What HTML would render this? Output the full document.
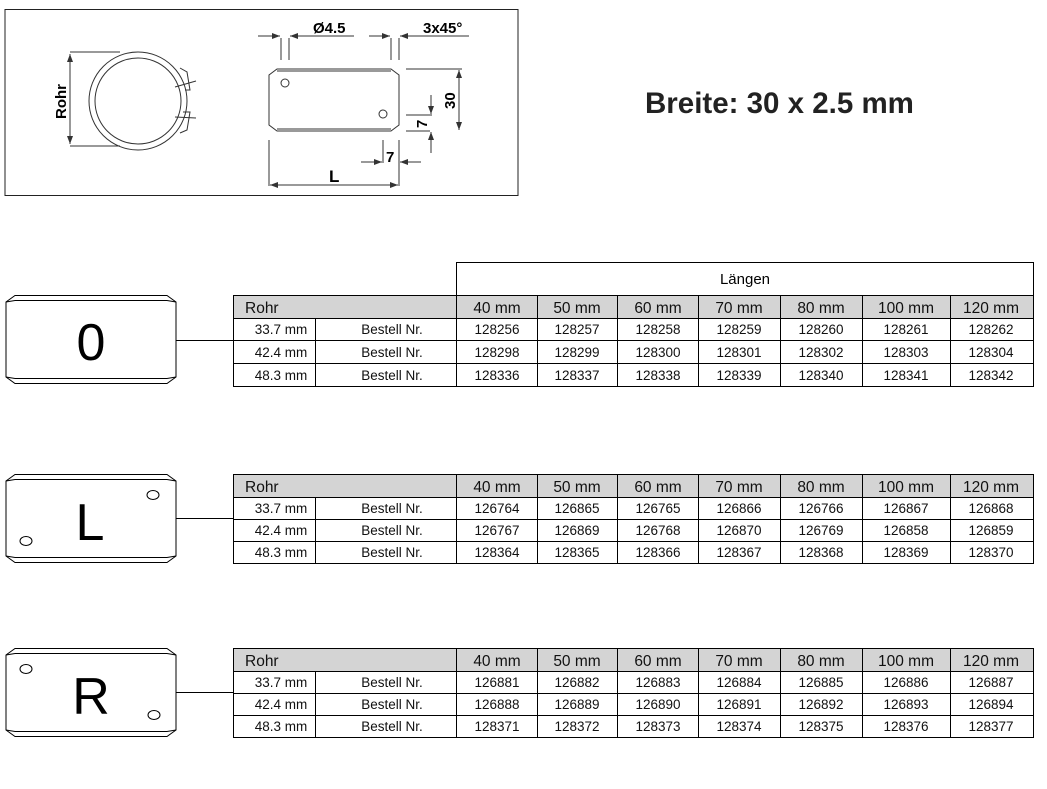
<!DOCTYPE html><html><head><meta charset="utf-8"><style>body{margin:0;background:#fff}svg{display:block}text{font-family:"Liberation Sans",sans-serif}</style></head><body>
<svg width="1047" height="789" viewBox="0 0 1047 789">
<defs><marker id="a" markerWidth="8" markerHeight="6" refX="8" refY="3" orient="auto" markerUnits="userSpaceOnUse"><path d="M0 0 L8 3 L0 6 Z" fill="#333"/></marker></defs>
<rect x="5" y="9.5" width="513" height="186" fill="none" stroke="#222" stroke-width="1"/>
<g fill="none" stroke="#333" stroke-width="1">
<circle cx="138" cy="101" r="49"/><circle cx="138" cy="101" r="43"/>
<path d="M180 68 L187 72 L190 90 L185 90 M183 112 L190 112 L187 130 L180 133"/>
<path d="M175 87 L196 81 M175 117 L196 118"/>
<line x1="70" y1="52" x2="120" y2="52"/><line x1="70" y1="146" x2="120" y2="146"/>
<line x1="70" y1="100" x2="70" y2="54" marker-end="url(#a)"/><line x1="70" y1="100" x2="70" y2="144" marker-end="url(#a)"/>
<path d="M277 69 H391 L399 75 V125 L391 131 H277 L269 125 V75 Z"/>
<path d="M277 71 H391 M277 129 H391"/>
<circle cx="285" cy="83" r="4"/><circle cx="383" cy="114" r="4"/>
<line x1="281" y1="38" x2="281" y2="60"/><line x1="289" y1="38" x2="289" y2="60"/>
<line x1="391" y1="38" x2="391" y2="60"/><line x1="399" y1="38" x2="399" y2="60"/>
<line x1="258" y1="36" x2="280" y2="36" marker-end="url(#a)"/><line x1="354" y1="36" x2="290" y2="36" marker-end="url(#a)"/>
<line x1="369" y1="36" x2="390" y2="36" marker-end="url(#a)"/><line x1="469" y1="36" x2="400" y2="36" marker-end="url(#a)"/>
<line x1="406" y1="69" x2="462" y2="69"/><line x1="406" y1="131" x2="430" y2="131"/>
<line x1="406" y1="115" x2="432" y2="115"/>
<line x1="459" y1="100" x2="459" y2="70" marker-end="url(#a)"/><line x1="459" y1="100" x2="459" y2="130" marker-end="url(#a)"/>
<line x1="431" y1="95" x2="431" y2="114" marker-end="url(#a)"/><line x1="431" y1="153" x2="431" y2="132" marker-end="url(#a)"/>
<line x1="269" y1="140" x2="269" y2="186"/><line x1="399" y1="140" x2="399" y2="186"/>
<line x1="383" y1="140" x2="383" y2="163"/>
<line x1="361" y1="162" x2="382" y2="162" marker-end="url(#a)"/><line x1="421" y1="162" x2="400" y2="162" marker-end="url(#a)"/>
<line x1="334" y1="185" x2="270" y2="185" marker-end="url(#a)"/><line x1="334" y1="185" x2="398" y2="185" marker-end="url(#a)"/>
</g>
<text x="313" y="33" font-size="15" font-weight="bold">Ø4.5</text>
<text x="423" y="33" font-size="15" font-weight="bold">3x45°</text>
<text x="329" y="182" font-size="17" font-weight="bold">L</text>
<text x="386" y="162" font-size="15" font-weight="bold">7</text>
<text transform="translate(455,109) rotate(-90)" font-size="15" font-weight="bold">30</text>
<text transform="translate(427,128) rotate(-90)" font-size="15" font-weight="bold">7</text>
<text transform="translate(66,119) rotate(-90)" font-size="15" font-weight="bold">Rohr</text>
<text x="645" y="113" font-size="29.5" font-weight="bold" fill="#222">Breite: 30 x 2.5 mm</text>

<rect x="456.5" y="262.5" width="577" height="33" fill="none" stroke="#000"/>
<text x="745" y="284" font-size="15" text-anchor="middle">Längen</text>

<g fill="none" stroke="#000" stroke-width="1">
<path d="M15 295.5 H167 L176 302 V377 L167 383.5 H15 L6 377 V302 Z"/><path d="M15 300.5 H167 M15 378.5 H167 M6 302 L15 300.5 M176 302 L167 300.5 M6 377 L15 378.5 M176 377 L167 378.5"/>
<line x1="176" y1="340.5" x2="233" y2="340.5"/>
<path d="M15 474.5 H167 L176 481 V556 L167 562.5 H15 L6 556 V481 Z"/><path d="M15 479.5 H167 M15 557.5 H167 M6 481 L15 479.5 M176 481 L167 479.5 M6 556 L15 557.5 M176 556 L167 557.5"/>
<ellipse cx="153" cy="495" rx="6" ry="4.5"/><ellipse cx="26" cy="541" rx="6" ry="4.5"/>
<line x1="176" y1="518.5" x2="233" y2="518.5"/>
<path d="M15 648.5 H167 L176 655 V730 L167 736.5 H15 L6 730 V655 Z"/><path d="M15 653.5 H167 M15 731.5 H167 M6 655 L15 653.5 M176 655 L167 653.5 M6 730 L15 731.5 M176 730 L167 731.5"/>
<ellipse cx="26" cy="669" rx="6" ry="4.5"/><ellipse cx="154" cy="715" rx="6" ry="4.5"/>
<line x1="176" y1="692.5" x2="233" y2="692.5"/>
</g>
<text x="91" y="360" font-size="52" text-anchor="middle">0</text>
<text x="90" y="540" font-size="52" text-anchor="middle">L</text>
<text x="91" y="714" font-size="52" text-anchor="middle">R</text>

<g stroke="#000" stroke-width="1">
<rect x="233.5" y="295.5" width="800" height="23" fill="#d4d4d4"/>
<rect x="233.5" y="295.5" width="800" height="91" fill="none"/>
<line x1="233" y1="318.5" x2="1034" y2="318.5"/><line x1="233" y1="340.5" x2="1034" y2="340.5"/><line x1="233" y1="363.5" x2="1034" y2="363.5"/>
<line x1="315.5" y1="318" x2="315.5" y2="386"/>
<path d="M456.5 295V386M537.5 295V386M617.5 295V386M698.5 295V386M780.5 295V386M862.5 295V386M950.5 295V386"/>
<rect x="233.5" y="474.5" width="800" height="23" fill="#d4d4d4"/>
<rect x="233.5" y="474.5" width="800" height="89" fill="none"/>
<line x1="233" y1="497.5" x2="1034" y2="497.5"/><line x1="233" y1="519.5" x2="1034" y2="519.5"/><line x1="233" y1="541.5" x2="1034" y2="541.5"/>
<line x1="315.5" y1="497" x2="315.5" y2="563"/>
<path d="M456.5 474V563M537.5 474V563M617.5 474V563M698.5 474V563M780.5 474V563M862.5 474V563M950.5 474V563"/>
<rect x="233.5" y="648.5" width="800" height="23" fill="#d4d4d4"/>
<rect x="233.5" y="648.5" width="800" height="89" fill="none"/>
<line x1="233" y1="671.5" x2="1034" y2="671.5"/><line x1="233" y1="693.5" x2="1034" y2="693.5"/><line x1="233" y1="715.5" x2="1034" y2="715.5"/>
<line x1="315.5" y1="671" x2="315.5" y2="737"/>
<path d="M456.5 648V737M537.5 648V737M617.5 648V737M698.5 648V737M780.5 648V737M862.5 648V737M950.5 648V737"/>
</g>
<g font-size="15.5" text-anchor="middle" fill="#111">
<text x="245" y="313" text-anchor="start">Rohr</text><text x="497" y="313">40 mm</text><text x="577" y="313">50 mm</text><text x="658" y="313">60 mm</text><text x="739" y="313">70 mm</text><text x="821" y="313">80 mm</text><text x="906" y="313">100 mm</text><text x="991" y="313">120 mm</text>
<text x="245" y="492" text-anchor="start">Rohr</text><text x="497" y="492">40 mm</text><text x="577" y="492">50 mm</text><text x="658" y="492">60 mm</text><text x="739" y="492">70 mm</text><text x="821" y="492">80 mm</text><text x="906" y="492">100 mm</text><text x="991" y="492">120 mm</text>
<text x="245" y="666" text-anchor="start">Rohr</text><text x="497" y="666">40 mm</text><text x="577" y="666">50 mm</text><text x="658" y="666">60 mm</text><text x="739" y="666">70 mm</text><text x="821" y="666">80 mm</text><text x="906" y="666">100 mm</text><text x="991" y="666">120 mm</text>
</g>
<g font-size="13.5" text-anchor="middle" fill="#111">
<text x="281" y="334">33.7 mm</text><text x="392" y="334">Bestell Nr.</text><text x="497" y="334">128256</text><text x="577" y="334">128257</text><text x="658" y="334">128258</text><text x="739" y="334">128259</text><text x="821" y="334">128260</text><text x="906" y="334">128261</text><text x="991" y="334">128262</text>
<text x="281" y="357">42.4 mm</text><text x="392" y="357">Bestell Nr.</text><text x="497" y="357">128298</text><text x="577" y="357">128299</text><text x="658" y="357">128300</text><text x="739" y="357">128301</text><text x="821" y="357">128302</text><text x="906" y="357">128303</text><text x="991" y="357">128304</text>
<text x="281" y="380">48.3 mm</text><text x="392" y="380">Bestell Nr.</text><text x="497" y="380">128336</text><text x="577" y="380">128337</text><text x="658" y="380">128338</text><text x="739" y="380">128339</text><text x="821" y="380">128340</text><text x="906" y="380">128341</text><text x="991" y="380">128342</text>
<text x="281" y="513">33.7 mm</text><text x="392" y="513">Bestell Nr.</text><text x="497" y="513">126764</text><text x="577" y="513">126865</text><text x="658" y="513">126765</text><text x="739" y="513">126866</text><text x="821" y="513">126766</text><text x="906" y="513">126867</text><text x="991" y="513">126868</text>
<text x="281" y="535">42.4 mm</text><text x="392" y="535">Bestell Nr.</text><text x="497" y="535">126767</text><text x="577" y="535">126869</text><text x="658" y="535">126768</text><text x="739" y="535">126870</text><text x="821" y="535">126769</text><text x="906" y="535">126858</text><text x="991" y="535">126859</text>
<text x="281" y="557">48.3 mm</text><text x="392" y="557">Bestell Nr.</text><text x="497" y="557">128364</text><text x="577" y="557">128365</text><text x="658" y="557">128366</text><text x="739" y="557">128367</text><text x="821" y="557">128368</text><text x="906" y="557">128369</text><text x="991" y="557">128370</text>
<text x="281" y="687">33.7 mm</text><text x="392" y="687">Bestell Nr.</text><text x="497" y="687">126881</text><text x="577" y="687">126882</text><text x="658" y="687">126883</text><text x="739" y="687">126884</text><text x="821" y="687">126885</text><text x="906" y="687">126886</text><text x="991" y="687">126887</text>
<text x="281" y="709">42.4 mm</text><text x="392" y="709">Bestell Nr.</text><text x="497" y="709">126888</text><text x="577" y="709">126889</text><text x="658" y="709">126890</text><text x="739" y="709">126891</text><text x="821" y="709">126892</text><text x="906" y="709">126893</text><text x="991" y="709">126894</text>
<text x="281" y="731">48.3 mm</text><text x="392" y="731">Bestell Nr.</text><text x="497" y="731">128371</text><text x="577" y="731">128372</text><text x="658" y="731">128373</text><text x="739" y="731">128374</text><text x="821" y="731">128375</text><text x="906" y="731">128376</text><text x="991" y="731">128377</text>
</g>
</svg></body></html>
